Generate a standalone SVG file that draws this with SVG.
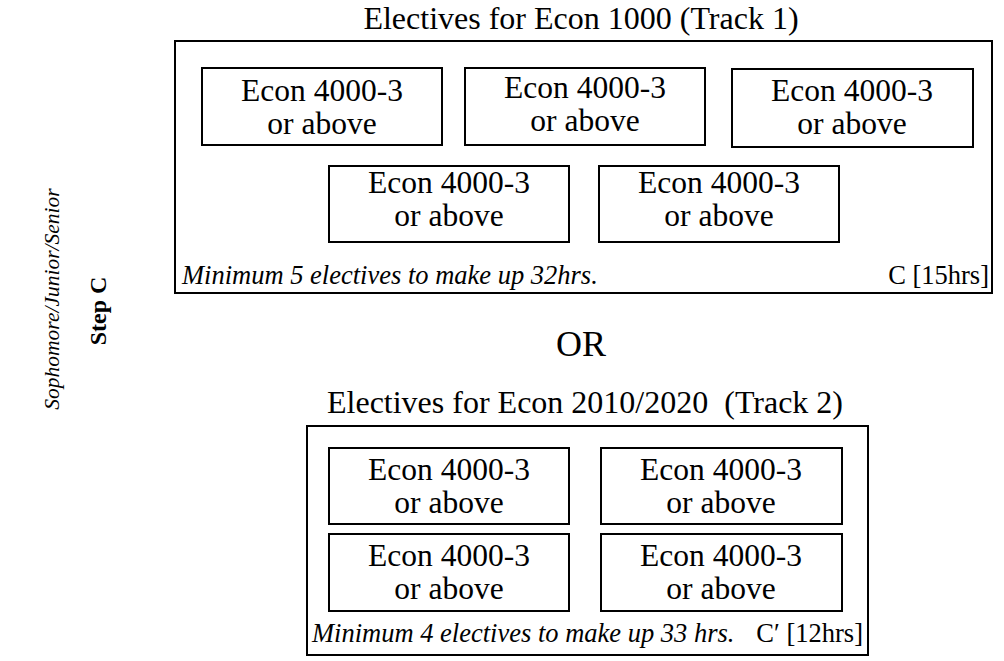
<svg xmlns="http://www.w3.org/2000/svg" width="1004" height="661" viewBox="0 0 1004 661">
<style>
.box{fill:#fff;stroke:#000;stroke-width:2}
.t{font-size:31.5px;text-anchor:middle}
.title{font-size:32px;text-anchor:middle}
.foot{font-size:26.5px;font-style:italic}
.hrs{font-size:26.5px}
</style>
<rect width="1004" height="661" fill="#fff"/>
<g font-family="Liberation Serif, DejaVu Serif, serif" fill="#000">
<g id="side">
<text transform="translate(106,311) rotate(-90)" font-size="24" font-weight="bold" text-anchor="middle">Step C</text>
<text transform="translate(59,299) rotate(-90)" font-size="21.5" font-style="italic" text-anchor="middle">Sophomore/Junior/Senior</text>
</g>
<g id="track1">
<text class="title" x="581" y="29">Electives for Econ 1000 (Track 1)</text>
<rect class="box" x="175" y="41" width="817" height="252"/>
<text class="foot" x="182" y="284">Minimum 5 electives to make up 32hrs.</text>
<text class="hrs" x="989" y="284" text-anchor="end">C [15hrs]</text>
</g>
<g id="t1a"><rect class="box" x="202" y="68" width="240" height="77"/><text class="t" x="322" y="101">Econ 4000-3</text><text class="t" x="322" y="134">or above</text></g>
<g id="t1b"><rect class="box" x="465" y="68" width="240" height="77"/><text class="t" x="585" y="98">Econ 4000-3</text><text class="t" x="585" y="131">or above</text></g>
<g id="t1c"><rect class="box" x="732" y="69" width="241" height="78"/><text class="t" x="852" y="101">Econ 4000-3</text><text class="t" x="852" y="134">or above</text></g>
<g id="t1d"><rect class="box" x="329" y="166" width="240" height="76"/><text class="t" x="449" y="193">Econ 4000-3</text><text class="t" x="449" y="226">or above</text></g>
<g id="t1e"><rect class="box" x="599" y="166" width="240" height="76"/><text class="t" x="719" y="193">Econ 4000-3</text><text class="t" x="719" y="226">or above</text></g>
<g id="or"><text x="581" y="356" font-size="36" text-anchor="middle">OR</text></g>
<g id="track2">
<text class="title" x="585" y="413" xml:space="preserve">Electives for Econ 2010/2020  (Track 2)</text>
<rect class="box" x="307" y="426" width="561" height="229"/>
<text class="foot" x="312" y="642">Minimum 4 electives to make up 33 hrs.</text>
<text class="hrs" x="863" y="642" text-anchor="end">C′ [12hrs]</text>
</g>
<g id="t2a"><rect class="box" x="329" y="448" width="240" height="76"/><text class="t" x="449" y="480">Econ 4000-3</text><text class="t" x="449" y="513">or above</text></g>
<g id="t2b"><rect class="box" x="601" y="448" width="241" height="76"/><text class="t" x="721" y="480">Econ 4000-3</text><text class="t" x="721" y="513">or above</text></g>
<g id="t2c"><rect class="box" x="329" y="534" width="240" height="77"/><text class="t" x="449" y="566">Econ 4000-3</text><text class="t" x="449" y="599">or above</text></g>
<g id="t2d"><rect class="box" x="601" y="534" width="241" height="77"/><text class="t" x="721" y="566">Econ 4000-3</text><text class="t" x="721" y="599">or above</text></g>
</g>
<g id="connectors"></g>
</svg>
